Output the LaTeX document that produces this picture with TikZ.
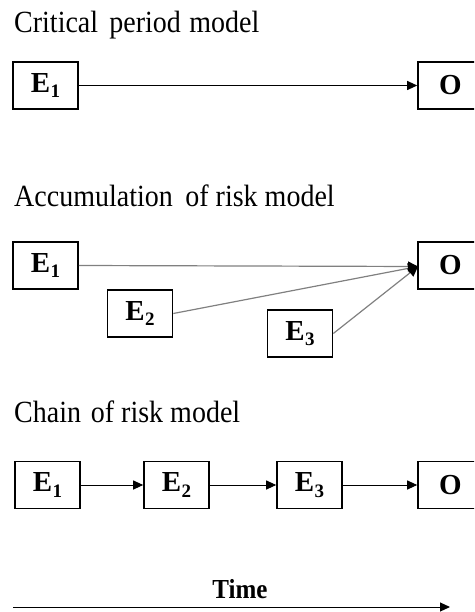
\documentclass[tikz,border=0pt]{standalone}
\usepackage{fontspec}
\setmainfont{Liberation Serif}
\usetikzlibrary{arrows.meta}
\newcommand{\tallttl}[1]{\scalebox{1}[1.1]{#1}}
\newcommand{\esub}[1]{E\kern0.02em\raisebox{-0.2em}{\fontsize{19}{20}\selectfont #1}}
\begin{document}
\begin{tikzpicture}[x=1pt,y=-1pt,
  box/.style={draw,line width=1.6pt,minimum width=65pt,minimum height=47pt,inner sep=0pt,font=\fontsize{29}{30}\selectfont\bfseries},
  ttl/.style={anchor=base west,inner sep=0pt,font=\fontsize{28}{30}\selectfont},
  conn/.style={line width=1pt,-{Triangle[length=10pt,width=9pt]}},
  gconn/.style={line width=1.2pt,draw=black!50,-{Triangle[length=10pt,width=10pt,fill=black,color=black]}}]
\useasboundingbox (0,0) rectangle (474,612);
\clip (0,0) rectangle (474,612);
% Critical period
\node[ttl] (t1) at (14,33) {\tallttl{Critical\hspace{0.15em} period\hspace{0.05em} model}};
\node[box] (a1) at (45.5,85.5) {\esub{1}};
\node[box] (ao) at (450.5,85.5) {O};
\draw[conn] (a1) -- (ao);
% Accumulation
\node[ttl] (t2) at (14,207) {\tallttl{Accumulation\hspace{0.2em} of risk model}};
\node[box] (b1) at (45.5,265.5) {\esub{1}};
\node[box] (b2) at (140,313.5) {\esub{2}};
\node[box] (b3) at (300,333.5) {\esub{3}};
\node[box] (bo) at (450.5,265.5) {O};
\coordinate (bt) at (418,266.5);
\draw[gconn] (b1.east) -- (bt);
\draw[gconn] (b2.east) -- (bt);
\draw[gconn] (b3.east) -- (bt);
% Chain
\node[ttl] (t3) at (14,422) {\tallttl{Chain\hspace{0.1em} of risk model}};
\node[box] (c1) at (47.5,485) {\esub{1}};
\node[box] (c2) at (176.5,485) {\esub{2}};
\node[box] (c3) at (309.5,485) {\esub{3}};
\node[box] (co) at (450.5,485) {O};
\draw[conn] (c1) -- (c2);
\draw[conn] (c2) -- (c3);
\draw[conn] (c3) -- (co);
% Time
\node[anchor=base,inner sep=0pt,font=\fontsize{25}{28}\selectfont\bfseries] (tm) at (240,598) {\scalebox{1}[1.1]{Time}};
\coordinate (ts) at (13,607);
\coordinate (te) at (450,607);
\draw[conn] (ts) -- (te);
\end{tikzpicture}
\end{document}
